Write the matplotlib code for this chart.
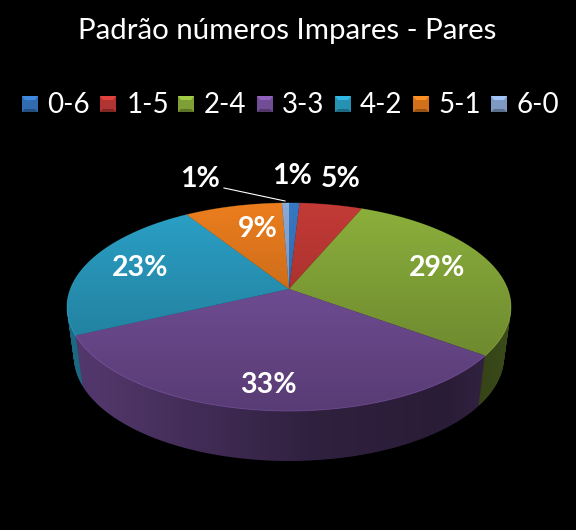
import numpy as np
import matplotlib
matplotlib.use("Agg")
import matplotlib.pyplot as plt
from matplotlib.colors import to_rgb

categories = ['0-6', '1-5', '2-4', '3-3', '4-2', '5-1', '6-0']
values = [0.9, 5.4, 28.8, 32.9, 23.0, 8.4, 0.6]
pct_labels = ['1%', '5%', '29%', '33%', '23%', '9%', '1%']
colors = ['#3778c3', '#c33a36', '#8cb03c', '#7d55a5', '#2ba1c7', '#eb7d1e', '#8caad7']
label_px = [(292, 176), (341, 179), (437, 268), (268, 385), (140, 268), (258, 229), (200, 179)]
legend_x = [22, 100, 178, 257, 335, 413, 491]
legend_text_x = [47, 127, 204, 282, 360, 438, 516]

# the pie is a tilted disc: ellipse centre and apex are not the same point
cx, cy = 289.0, 307.0
rx, ry = 222.0, 104.0
apex_up = 18.0
k = apex_up / ry
depth = 50
bottom_rx = 215.0


def project(u, v, scale_x=rx, drop=0.0):
    # disc coords to pixels
    w = 1 + k * v
    s = scale_x * np.sqrt(1 - k ** 2)
    x = cx + s * u / w
    y = cy + drop - (ry * v + apex_up) / w
    return x, y


def slice_poly(a0, a1, scale_x=rx, drop=0.0):
    t = np.linspace(a0, a1, 60)
    u = np.r_[0.0, np.sin(t)]
    v = np.r_[0.0, np.cos(t)]
    return project(u, v, scale_x, drop)


def shade_color(c, f):
    return tuple(min(1, x * f) for x in to_rgb(c))


plt.rcParams['font.family'] = ['Lato', 'DejaVu Sans']
fig = plt.figure(figsize=(5.76, 5.30), dpi=100, facecolor='black')
ax = fig.add_axes([0, 0, 1, 1], facecolor='black')

edges = 2 * np.pi * np.r_[0, np.cumsum(values)] / np.sum(values)

# side wall, bottom layer first
for d in range(depth, 0, -1):
    sx = rx + (bottom_rx - rx) * d / depth
    for i, c in enumerate(colors):
        x, y = slice_poly(edges[i], edges[i + 1], sx, d)
        ax.fill(x, y, color=shade_color(c, 0.66), lw=0, zorder=1)

# wall gets darker towards the right, background is black so no clip
shade = np.zeros((1, 256, 4))
shade[0, :, 3] = np.interp(np.linspace(0, 1, 256), [0, 0.1, 0.55, 0.85, 1],
                           [0.0, 0.05, 0.42, 0.5, 0.35])
ax.imshow(shade, extent=(66, 512, 470, 200), aspect='auto', zorder=2)

# top face with a soft vertical gradient
grad = np.zeros((256, 1, 4))
grad[:, 0, 3] = np.linspace(0.0, 0.3, 256)
for i, c in enumerate(colors):
    x, y = slice_poly(edges[i], edges[i + 1])
    poly = ax.fill(x, y, color=c, lw=0, zorder=3)[0]
    im = ax.imshow(grad, extent=(66, 512, 412, 202), aspect='auto', zorder=4)
    im.set_clip_path(poly)
    ax.plot(x[1:], y[1:], color=shade_color(c, 1.35), lw=0.6, alpha=0.35, zorder=5)

ax.set_xlim(0, 576)
ax.set_ylim(530, 0)
ax.set_aspect('auto')
ax.axis('off')

for lab, pos in zip(pct_labels, label_px):
    ax.text(pos[0], pos[1], lab, color='white', fontsize=20.5, fontweight='bold',
            ha='center', va='center', zorder=10)

ax.plot([224, 285], [188, 201], color='white', lw=0.8, zorder=9)

ax.text(287.5, 31, 'Padrão números Impares - Pares', color='white',
        fontsize=21.2, ha='center', va='center')

# legend
for name, c, x, tx in zip(categories, colors, legend_x, legend_text_x):
    ax.fill([x, x + 16, x + 16, x], [96, 96, 112, 112], color=shade_color(c, 0.9), lw=0, zorder=6)
    ax.fill([x, x + 16, x + 13, x + 3], [96, 96, 100, 100], color=shade_color(c, 1.15), lw=0, zorder=7)
    ax.fill([x, x + 16, x + 13, x + 3], [112, 112, 109, 109], color=shade_color(c, 0.65), lw=0, zorder=7)
    ax.text(tx, 105, name, color='white', fontsize=20, ha='left', va='center')

fig.savefig('out.png', dpi=100, facecolor='black')
